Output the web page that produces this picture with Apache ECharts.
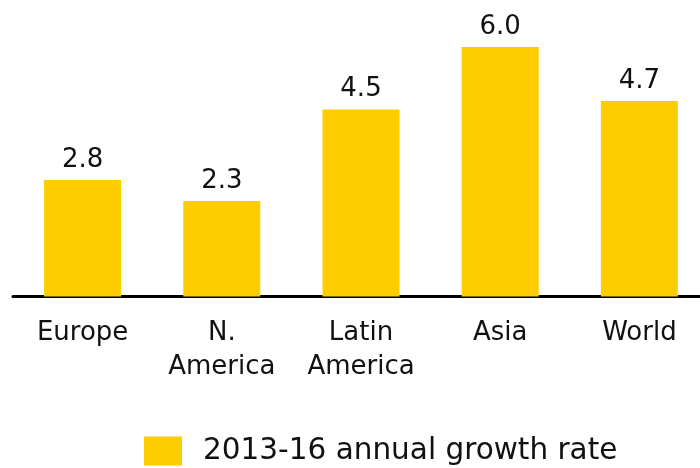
<!DOCTYPE html>
<html>
<head>
<meta charset="utf-8">
<script src="https://cdn.jsdelivr.net/npm/echarts@6/dist/echarts.min.js"></script>
<style>html,body{margin:0;padding:0;background:#fff;overflow:hidden}#c{width:709px;height:468px}</style>
</head>
<body>
<div id="c"></div>
<script>
const categories = ['Europe', 'N.\nAmerica', 'Latin\nAmerica', 'Asia', 'World'];
const growthRate = [2.8, 2.3, 4.5, 6.0, 4.7];
const seriesName = '2013-16 annual growth rate';

const chart = echarts.init(document.getElementById('c'), null, {renderer: 'canvas'});
const FONT = 'DejaVu Sans';
chart.setOption({
  animation: false,
  backgroundColor: '#fff',
  textStyle: {fontFamily: FONT},
  grid: {left: 13, top: 5.5, right: 0, height: 291, containLabel: false},
  legend: {
    left: 139, top: 431,
    itemWidth: 38, itemHeight: 29, itemGap: 20,
    icon: 'rect',
    textStyle: {fontFamily: FONT, fontSize: 29.5, color: '#111', padding: [7,0,0,16]},
    data: [seriesName]
  },
  xAxis: {
    type: 'category',
    data: categories,
    axisLine: {lineStyle: {color: '#000', width: 3}},
    axisTick: {show: false},
    axisLabel: {fontFamily: FONT, fontSize: 26, color: '#111', lineHeight: 34, margin: 20, interval: 0}
  },
  yAxis: {
    type: 'value', min: 0, max: 7,
    show: false,
    splitLine: {show: false}
  },
  series: [{
    name: seriesName,
    type: 'bar',
    data: growthRate,
    barWidth: 77,
    itemStyle: {color: '#FFCC00'},
    label: {
      show: true, position: 'top', distance: 7,
      fontFamily: FONT, fontSize: 26, color: '#111',
      formatter: p => p.value.toFixed(1)
    }
  }]
});
</script>
</body>
</html>
